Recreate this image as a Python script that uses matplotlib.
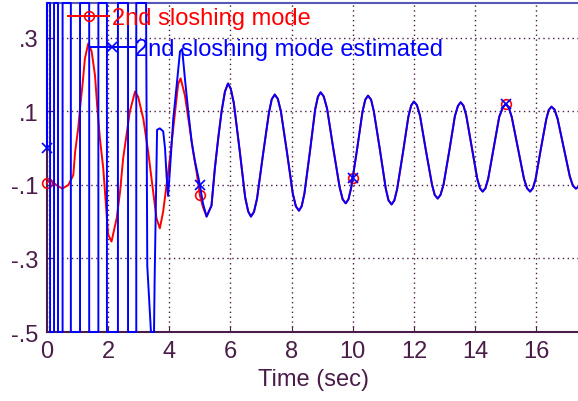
import numpy as np
import matplotlib
matplotlib.use("Agg")
import matplotlib.pyplot as plt
from matplotlib.lines import Line2D

# values (time in s, amplitude)
true_early_t = [0.0, 0.1, 0.3, 0.5, 0.7, 0.86, 0.92, 1.02, 1.08, 1.17, 1.24, 1.35, 1.46, 1.57, 1.64,
                1.73, 1.84, 1.93, 2.0, 2.11, 2.28, 2.39, 2.49, 2.6, 2.71, 2.88, 2.98, 3.15, 3.31, 3.47,
                3.58, 3.69, 3.8, 3.91, 4.02, 4.13, 4.29, 4.37, 4.51, 4.67, 4.78, 4.89, 5.0, 5.1, 5.22]
true_early_v = [-0.095, -0.085, -0.1, -0.11, -0.1, -0.073, -0.01, 0.054, 0.108, 0.18, 0.244, 0.285, 0.263, 0.198, 0.116,
                0.027, -0.055, -0.156, -0.235, -0.254, -0.19, -0.118, -0.028, 0.035, 0.1, 0.154, 0.14, 0.08, -0.01, -0.118,
                -0.19, -0.218, -0.172, -0.1, -0.028, 0.054, 0.175, 0.19, 0.144, 0.054, -0.01, -0.063, -0.128, -0.16, -0.186]

# estimate swings off the chart at first (values pinned at the axis edges)
est_early_t = [0.0, 0.0, 0.1, 0.1, 0.23, 0.23, 0.36, 0.36, 0.51, 0.51, 0.78, 0.78, 1.08, 1.08, 1.38, 1.38,
               1.68, 1.68, 1.96, 1.96, 2.32, 2.32, 2.65, 2.65, 2.92, 2.92, 3.24, 3.28, 3.40, 3.50, 3.52, 3.60,
               3.69, 3.80, 3.86, 3.91, 3.96, 4.02, 4.13, 4.24, 4.35, 4.42, 4.51, 4.62, 4.73, 4.84, 4.94, 5.0,
               5.1, 5.22]
est_early_v = [0.0, 0.395, 0.395, -0.5, -0.5, 0.395, 0.395, -0.5, -0.5, 0.395, 0.395, -0.5, -0.5, 0.395, 0.395, -0.5,
               -0.5, 0.395, 0.395, -0.5, -0.5, 0.395, 0.395, -0.5, -0.5, 0.395, 0.395, -0.32, -0.5, -0.5, -0.36, 0.05,
               0.054, 0.046, 0.0, -0.074, -0.13, -0.06, 0.08, 0.17, 0.263, 0.27, 0.19, 0.1, 0.018, -0.036, -0.075, -0.1,
               -0.15, -0.186]

# after ~5.3 s both curves lie on top of each other
common_t = [5.38, 5.49, 5.6, 5.71, 5.82,
            5.92, 6.01, 6.11, 6.30, 6.48, 6.58,
            6.67, 6.77, 6.87, 7.06, 7.26, 7.35,
            7.45, 7.55, 7.65, 7.85, 8.04, 8.14,
            8.24, 8.33, 8.42, 8.60, 8.77, 8.86,
            8.95, 9.05, 9.16, 9.36, 9.57, 9.67,
            9.77, 9.86, 9.95, 10.0, 10.14, 10.32, 10.41,
            10.5, 10.6, 10.69, 10.89, 11.08, 11.17,
            11.27, 11.36, 11.45, 11.64, 11.82, 11.91,
            12.0, 12.1, 12.2, 12.39, 12.59, 12.68,
            12.78, 12.87, 12.97, 13.16, 13.34, 13.44,
            13.53, 13.62, 13.71, 13.89, 14.07, 14.16,
            14.25, 14.34, 14.43, 14.61, 14.79, 14.91,
            15.0, 15.1, 15.2, 15.4, 15.6, 15.7,
            15.8, 15.89, 15.98, 16.15, 16.33, 16.41,
            16.5, 16.6, 16.7, 16.9, 17.1, 17.2,
            17.3, 17.45]
common_v = [-0.156, -0.055, 0.027, 0.1, 0.154,
            0.176, 0.162, 0.123, -0.005, -0.133, -0.172,
            -0.186, -0.173, -0.137, -0.02, 0.097, 0.133,
            0.146, 0.134, 0.100, -0.012, -0.124, -0.158,
            -0.17, -0.158, -0.123, -0.009, 0.105, 0.140,
            0.152, 0.141, 0.108, 0.001, -0.106, -0.139,
            -0.15, -0.139, -0.107, -0.08, -0.004, 0.100, 0.132,
            0.143, 0.132, 0.100, -0.005, -0.110, -0.142,
            -0.153, -0.142, -0.112, -0.013, 0.086, 0.116,
            0.127, 0.117, 0.088, -0.005, -0.098, -0.127,
            -0.137, -0.127, -0.099, -0.006, 0.087, 0.115,
            0.125, 0.116, 0.09, 0.004, -0.082, -0.109,
            -0.118, -0.109, -0.083, 0.001, 0.085, 0.111,
            0.12, 0.111, 0.085, 0.001, -0.083, -0.109,
            -0.118, -0.109, -0.084, -0.003, 0.079, 0.104,
            0.113, 0.105, 0.08, 0.002, -0.077, -0.102,
            -0.11, -0.1]

marker_times = [0, 5, 10, 15]
x_ticks = [0, 2, 4, 6, 8, 10, 12, 14, 16]
y_ticks = [-0.5, -0.3, -0.1, 0.1, 0.3]
y_tick_labels = ["-.5", "-.3", "-.1", ".1", ".3"]
labels = ["2nd sloshing mode", "2nd sloshing mode estimated"]

plt.rcParams["font.family"] = ["Liberation Sans", "DejaVu Sans"]
ink = "#4a1c48"

true_t = np.array(true_early_t + common_t)
true_v = np.array(true_early_v + common_v)
est_t = np.array(est_early_t + common_t)
est_v = np.array(est_early_v + common_v)

fig = plt.figure(figsize=(5.78, 4.02), dpi=100)
ax = fig.add_axes([47 / 578, 69 / 402, 532 / 578, 329 / 402])

# markers every 5 s, not clipped at the left edge (like the original)
ax.plot(true_t, true_v, color="red", lw=1.4, marker="o", ms=7, mfc="none", mew=1.2,
        markevery=list(np.searchsorted(true_t, marker_times)), zorder=3, clip_on=False)
ax.plot(est_t, est_v, color="blue", lw=1.4, marker="x", ms=7, mew=1.2,
        markevery=list(np.searchsorted(est_t, marker_times)), zorder=4, clip_on=False)

ax.set_xlim(0, 17.4)
ax.set_ylim(-0.5, 0.395)
ax.set_xticks(x_ticks)
ax.set_yticks(y_ticks)
ax.set_yticklabels(y_tick_labels)
ax.tick_params(direction="in", length=4, colors=ink, labelsize=17, pad=6)
ax.grid(True, color=ink, linestyle=(0, (1, 2.5)), linewidth=1.0)
ax.set_axisbelow(True)
for side in ["left", "bottom"]:
    ax.spines[side].set_color(ink)
    ax.spines[side].set_linewidth(1.5)
ax.spines["top"].set_color("#5858b8")
ax.spines["top"].set_linewidth(1.5)
ax.spines["right"].set_visible(False)
ax.set_xlabel("Time (sec)", fontsize=17, color=ink, labelpad=4)

# two legend rows, offset like the original
h1 = Line2D([], [], color="red", lw=1.4, marker="o", ms=7, mfc="none", mew=1.2)
h2 = Line2D([], [], color="blue", lw=1.4, marker="x", ms=7, mew=1.2)
leg1 = fig.legend([h1], [labels[0]], loc="center left", bbox_to_anchor=(68 / 578, 1 - 19 / 402),
                  frameon=False, fontsize=17, handlelength=1.75, handletextpad=0.1,
                  borderpad=0, borderaxespad=0, labelcolor="red")
leg2 = fig.legend([h2], [labels[1]], loc="center left", bbox_to_anchor=(90 / 578, 1 - 50 / 402),
                  frameon=False, fontsize=17, handlelength=1.9, handletextpad=0.0,
                  borderpad=0, borderaxespad=0, labelcolor="blue")

fig.savefig("out.png", dpi=100)
